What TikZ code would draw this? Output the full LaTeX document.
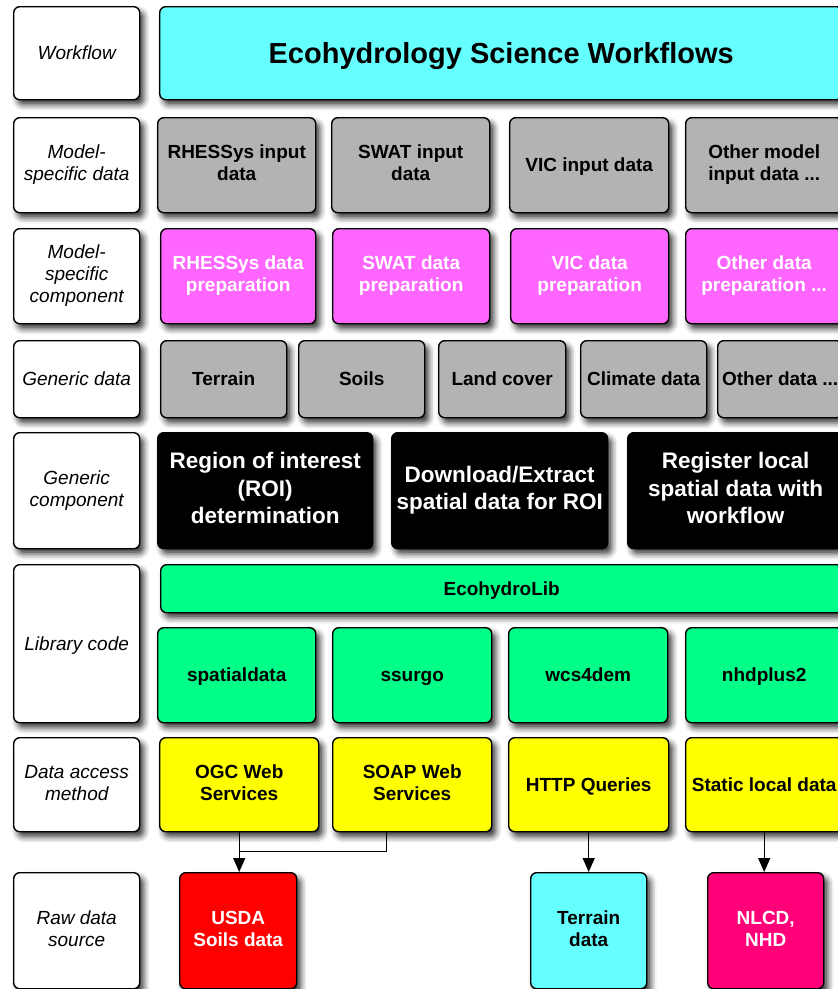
\documentclass[tikz,border=0pt]{standalone}
\usepackage{fontspec}
\setmainfont{Liberation Sans}
\usetikzlibrary{arrows.meta,shadows.blur}

\definecolor{wfcyan}{HTML}{66FFFF}
\definecolor{datagray}{HTML}{B3B3B3}
\definecolor{prepmag}{HTML}{FF66FF}
\definecolor{libgreen}{HTML}{00FF88}
\definecolor{accyellow}{HTML}{FFFF00}
\definecolor{soilred}{HTML}{FF0000}
\definecolor{nlcdpink}{HTML}{FF0078}

\tikzset{
  sz/.style 2 args={minimum width=#1pt, minimum height=#2pt},
  box/.style={draw=black, line width=1.4pt, rounded corners=6pt, anchor=north west,
    inner sep=0pt, align=center, font=\fontsize{19}{22}\selectfont\bfseries,
    execute at begin node={\rule{0pt}{0.8\baselineskip}},
    execute at end node={\rule[-0.2\baselineskip]{0pt}{0.2\baselineskip}},
    blur shadow={shadow xshift=4pt, shadow yshift=-5pt, shadow blur radius=6pt, shadow opacity=80}},
  lbl/.style={box, fill=white, font=\fontsize{19}{22}\selectfont\itshape},
  gdata/.style={box, fill=datagray},
  prep/.style={box, fill=prepmag, text=white},
  comp/.style={box, fill=black, text=white, font=\fontsize{22.5}{27.5}\selectfont\bfseries},
  lib/.style={box, fill=libgreen},
  acc/.style={box, fill=accyellow},
  conn/.style={line width=1.3pt, -{Triangle[length=14pt,width=12pt]}},
}

\begin{document}
\begin{tikzpicture}[x=1pt,y=-1pt]
\useasboundingbox (0,0) rectangle (838,989);

% row labels
\node[lbl,sz={126}{93}] (lwf) at (13,6) {Workflow};
\node[lbl,sz={126}{95}] (lmd) at (13,117) {Model-\\specific data};
\node[lbl,sz={126}{95}] (lmc) at (13,228) {Model-\\specific\\component};
\node[lbl,sz={126}{77}] (lgd) at (13,340) {Generic data};
\node[lbl,sz={126}{116}] (lgc) at (13,432) {Generic\\component};
\node[lbl,sz={126}{158}] (llc) at (13,564) {Library code};
\node[lbl,sz={126}{94}] (lda) at (13,737) {Data access\\method};
\node[lbl,sz={126}{116}] (lrd) at (13,872) {Raw data\\source};

% workflow
\node[box,fill=wfcyan,sz={683}{93},font=\fontsize{29}{34}\selectfont\bfseries] (eco) at (159,6) {Ecohydrology Science Workflows};

% model-specific data
\node[gdata,sz={158}{95}] (rhin) at (157,117) {RHESSys input\\data};
\node[gdata,sz={158}{95}] (swin) at (331,117) {SWAT input\\data};
\node[gdata,sz={159}{95}] (vcin) at (509,117) {VIC input data};
\node[gdata,sz={157}{95}] (otin) at (685,117) {Other model\\input data ...};

% model-specific component
\node[prep,sz={155}{95}] (rhpr) at (160,228) {RHESSys data\\preparation};
\node[prep,sz={157}{95}] (swpr) at (332,228) {SWAT data\\preparation};
\node[prep,sz={158}{95}] (vcpr) at (510,228) {VIC data\\preparation};
\node[prep,sz={157}{95}] (otpr) at (685,228) {Other data\\preparation ...};

% generic data
\node[gdata,sz={126}{77}] (terr) at (160,340) {Terrain};
\node[gdata,sz={126}{77}] (soil) at (298,340) {Soils};
\node[gdata,sz={127}{77}] (land) at (438,340) {Land cover};
\node[gdata,sz={126}{77}] (clim) at (580,340) {Climate data};
\node[gdata,sz={125}{77}] (othd) at (717,340) {Other data ...};

% generic component
\node[comp,sz={215}{116}] (roi) at (157,432) {Region of interest\\(ROI)\\determination};
\node[comp,sz={216}{116}] (dnld) at (391,432) {Download/Extract\\spatial data for ROI};
\node[comp,sz={216}{116}] (regl) at (627,432) {Register local\\spatial data with\\workflow};

% library code
\node[lib,sz={682}{48}] (ehlib) at (160,564) {EcohydroLib};
\node[lib,sz={158}{95}] (spd) at (157,627) {spatialdata};
\node[lib,sz={159}{95}] (ssg) at (332,627) {ssurgo};
\node[lib,sz={159}{95}] (wcs) at (508,627) {wcs4dem};
\node[lib,sz={157}{95}] (nhd) at (685,627) {nhdplus2};

% data access method
\node[acc,sz={159}{94}] (ogc) at (159,737) {OGC Web\\Services};
\node[acc,sz={159}{94}] (soap) at (332,737) {SOAP Web\\Services};
\node[acc,sz={160}{94}] (http) at (508,737) {HTTP Queries};
\node[acc,sz={157}{94}] (stat) at (685,737) {Static local data};

% raw data source
\node[box,fill=soilred,text=white,sz={117}{116}] (usda) at (179,872) {USDA\\Soils data};
\node[box,fill=wfcyan,sz={116}{116}] (trn) at (530,872) {Terrain\\data};
\node[box,fill=nlcdpink,text=white,sz={116}{116}] (nlcd) at (707,872) {NLCD,\\NHD};

% connectors
\coordinate (jn) at ([yshift=-19pt]ogc.south);
\draw[line width=1.3pt] ([xshift=-25.5pt]soap.south) |- (jn);
\draw[conn] (ogc.south) -- (ogc.south |- usda.north);
\draw[conn] (http.south) -- (http.south |- trn.north);
\draw[conn] (stat.south) -- (stat.south |- nlcd.north);
\end{tikzpicture}
\end{document}
